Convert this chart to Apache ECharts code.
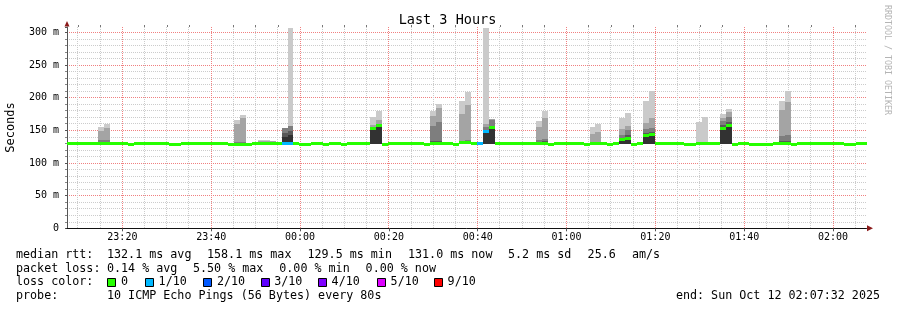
<!DOCTYPE html>
<html><head><meta charset="utf-8">
<script src="https://cdn.jsdelivr.net/npm/echarts@6/dist/echarts.min.js"></script>
<style>html,body{margin:0;padding:0;background:#fff}#c{width:897px;height:310px}</style>
</head><body><div id="c"></div>
<script>
// ---------------- DATA ----------------
const titleText = 'Last 3 Hours';
const yAxisName = 'Seconds';
const watermark = 'RRDTOOL / TOBI OETIKER';
const rangeStart = new Date(2025, 9, 11, 23, 7, 32).getTime();   // graph start
const rangeEnd = new Date(2025, 9, 12, 2, 7, 32).getTime();      // graph end
const firstSampleStart = new Date(2025, 9, 11, 23, 6, 31, 200).getTime();
const stepSeconds = 80;
const yMaxMs = 308;
const yStepMs = 50;
const xTickLabels = ['23:20', '23:40', '00:00', '00:20', '00:40', '01:00', '01:20', '01:40', '02:00'];
const xMinorMinutes = 5;

// median rtt per 80 s sample (ms)
const medianMs = [
  131.2,131.2,131.2,131.2,131.2,131.2,131.2,131.2,131.2,131.2,
  131.2,129.7,131.2,131.2,131.2,131.2,131.2,131.2,129.7,129.7,
  131.2,131.2,131.2,131.2,131.2,131.2,131.2,131.2,129.7,129.7,
  129.7,129.7,131.2,131.2,131.2,131.2,131.2,131.2,131.2,131.2,
  129.7,129.7,131.2,131.2,129.7,131.2,131.2,129.7,131.2,131.2,
  131.2,131.2,153.0,157.7,129.7,131.2,131.2,131.2,131.2,131.2,
  131.2,129.7,131.2,131.2,131.2,131.2,129.7,132.5,132.5,131.2,
  131.2,149.0,154.6,131.2,131.2,131.2,131.2,131.2,131.2,131.2,
  131.2,131.2,129.7,131.2,131.2,131.2,131.2,131.2,129.7,131.2,
  131.2,131.2,129.7,131.2,136.0,138.5,129.7,131.2,142.0,145.0,
  131.2,131.2,131.2,131.2,131.2,129.7,129.7,131.2,131.2,131.2,
  131.2,153.5,157.7,129.7,131.2,131.2,129.7,129.7,129.7,129.7,
  131.2,131.2,131.2,129.7,131.2,131.2,131.2,131.2,131.2,131.2,
  131.2,131.2,129.7,129.7,131.2,131.2
];

// samples with lost pings (index into medianMs) and count of lost pings out of 10
const lossSamples = [37, 38, 70, 71];
const lossCounts  = [1, 1, 1, 1];

// samples with visible smoke and their 10 sorted ping times (ms)
const smokeSamples = [6, 7, 29, 30, 33, 34, 35, 37, 38, 52, 53, 62, 63, 67, 68, 71, 72,
                      80, 81, 89, 90, 94, 95, 98, 99, 107, 108, 111, 112, 121, 122];
const smokePings = [
  [129.5,130.0,130.5,130.8,131.0,131.5,132.0,134.7,148.5,154.6],
  [129.5,130.0,130.5,130.8,131.0,131.5,132.0,134.7,153.5,159.2],
  [128.5,129.0,129.3,129.5,129.7,130.0,130.5,131.5,159.2,165.3],
  [128.5,129.0,129.3,129.5,129.7,130.0,130.5,131.5,168.9,173.0],
  [129.8,130.0,130.3,130.6,131.0,131.3,131.6,132.0,133.0,134.5],
  [129.8,130.0,130.3,130.6,131.0,131.3,131.6,132.0,133.5,135.0],
  [129.8,130.0,130.3,130.6,131.0,131.3,131.6,132.0,133.0,134.0],
  [129.5,129.6,129.8,130.0,130.5,139.6,145.7,153.0,153.0,153.5],
  [129.5,129.6,129.8,130.0,130.5,142.0,148.5,156.0,156.0,306.6],
  [128.5,128.6,128.7,128.8,129.0,152.0,153.5,155.0,158.7,171.0],
  [128.5,128.6,128.7,128.8,129.0,157.0,158.5,160.0,166.0,179.6],
  [130.0,130.2,130.5,130.8,131.0,131.5,133.0,156.0,172.5,179.6],
  [130.0,130.2,130.5,130.8,131.0,131.5,133.0,162.0,184.0,189.8],
  [130.5,131.0,131.3,131.6,132.0,132.5,133.0,134.0,175.6,194.4],
  [130.5,131.0,131.3,131.6,132.0,132.5,133.0,135.0,188.3,208.5],
  [129.2,129.3,129.4,129.5,129.6,150.0,151.0,155.0,160.0,306.6],
  [128.8,128.9,129.0,129.2,129.5,154.0,157.0,165.0,167.3,167.5],
  [130.0,130.2,130.5,130.8,131.0,131.5,132.0,135.5,155.6,164.3],
  [130.0,130.2,130.5,130.8,131.0,131.5,133.0,136.0,168.9,179.6],
  [129.5,129.8,130.0,130.5,130.8,131.0,131.2,131.5,144.4,154.6],
  [129.5,129.8,130.0,130.5,130.8,131.0,131.2,131.5,147.0,159.2],
  [128.3,128.4,128.5,128.6,128.8,136.5,138.0,142.5,152.0,169.4],
  [128.3,128.4,128.5,128.6,128.8,139.0,143.0,150.0,157.0,176.0],
  [128.3,128.4,128.5,128.6,128.8,142.0,146.0,152.0,161.0,194.4],
  [128.3,128.4,128.5,128.6,128.8,145.0,148.0,153.0,169.0,210.0],
  [130.0,130.3,130.5,130.8,131.0,131.2,131.5,132.0,132.5,162.7],
  [130.0,130.3,130.5,130.8,131.0,131.2,131.5,132.0,132.5,170.0],
  [128.3,128.4,128.5,128.6,128.8,152.0,158.0,164.0,168.4,175.0],
  [128.3,128.4,128.5,128.6,128.8,157.0,163.0,170.0,177.6,182.2],
  [130.0,130.2,130.5,130.8,131.0,131.5,133.0,141.3,180.6,194.9],
  [130.0,130.2,130.5,130.8,131.0,131.5,133.0,142.8,192.9,210.2]
];

// legend texts
const rowLabels = ['median rtt:', 'packet loss:', 'loss color:', 'probe:'];
const rttStats = ['132.1 ms avg', '158.1 ms max', '129.5 ms min', '131.0 ms now', '5.2 ms sd', '25.6', 'am/s'];
const lossStats = ['0.14 % avg', '5.50 % max', '0.00 % min', '0.00 % now'];
const lossLegendLabels = ['0', '1/10', '2/10', '3/10', '4/10', '5/10', '9/10'];
const lossLegendCounts = [0, 1, 2, 3, 4, 5, 9];
const probeText = '10 ICMP Echo Pings (56 Bytes) every 80s';
const endText = 'end: Sun Oct 12 02:07:32 2025';

// ---------------- STYLE / LAYOUT ----------------
const FONT = "'DejaVu Sans Mono', monospace";
const smokeShades = ['#cacaca', '#a4a4a4', '#7e7e7e', '#585858', '#323232'];
function lossColor(n) {
  if (n <= 0) return '#26ff00';
  if (n === 1) return '#00b8ff';
  if (n === 2) return '#0059ff';
  if (n === 3) return '#5e00ff';
  if (n === 4) return '#7e00ff';
  if (n === 5) return '#dd00ff';
  return '#ff0000';
}
const majorColor = '#f08080';
const minorColor = '#cccccc';
const rowY = [255, 268.5, 282, 296];
const rttX = [107, 207, 307.5, 408, 508, 587.6, 632];
const lossX = [107, 193, 279.3, 365.6];
const boxX = [107.4, 145, 203.4, 260.6, 318, 377, 434];
const stepMs = stepSeconds * 1000;
const pad = n => (n < 10 ? '0' : '') + n;
const fmtTime = v => { const d = new Date(v); return pad(d.getHours()) + ':' + pad(d.getMinutes()); };

// tick positions from the tick labels (evening labels on Oct 11, the rest on Oct 12)
function labelToTime(s) {
  const p = s.split(':').map(Number);
  return p[0] >= 12 ? new Date(2025, 9, 11, p[0], p[1]).getTime() : new Date(2025, 9, 12, p[0], p[1]).getTime();
}
const majorTicks = xTickLabels.map(labelToTime);
const minorTicks = [];
for (let t = majorTicks[0] - 4 * xMinorMinutes * 60000; t < rangeEnd; t += xMinorMinutes * 60000) {
  if (t > rangeStart && majorTicks.indexOf(t) < 0) minorTicks.push(t);
}

// ---------------- SERIES DATA ----------------
const lossOf = medianMs.map(() => 0);
lossSamples.forEach((s, j) => { lossOf[s] = lossCounts[j]; });
const medianData = medianMs.map((m, i) => {
  const t = firstSampleStart + i * stepMs;
  return [t, t + stepMs, m, lossOf[i]];
});
const smokeData = smokeSamples.map((s, j) => {
  const t = firstSampleStart + s * stepMs;
  return [t, t + stepMs].concat(smokePings[j]);
});
const vGridData = minorTicks.map(t => [t, 0]).concat(majorTicks.map(t => [t, 1]));

function renderSmoke(params, api) {
  const t0 = api.value(0), t1 = api.value(1);
  const children = [];
  for (let b = 0; b < 5; b++) {
    const lo = api.value(2 + b), hi = api.value(11 - b);
    const a = api.coord([t0, hi]), c = api.coord([t1, lo]);
    const x0 = Math.round(a[0]), x1 = Math.round(c[0]);
    const y0 = Math.round(a[1]), y1 = Math.round(c[1]);
    children.push({ type: 'rect', shape: { x: x0, y: y0, width: x1 - x0, height: Math.max(y1 - y0, 0) },
      style: { fill: smokeShades[b] } });
  }
  return { type: 'group', children };
}
function renderMedian(params, api) {
  const t0 = api.value(0), t1 = api.value(1);
  const a = api.coord([t0, api.value(2)]), c = api.coord([t1, api.value(2)]);
  const x0 = Math.round(a[0]), x1 = Math.round(c[0]);
  const y = Math.round(a[1] - 1);
  return { type: 'rect', shape: { x: x0, y: y, width: x1 - x0, height: 3 },
    style: { fill: lossColor(api.value(3)) } };
}
function renderVGrid(params, api) {
  const t = api.value(0);
  const top = api.coord([t, yMaxMs]), bottom = api.coord([t, 0]);
  const x = Math.floor(top[0]) + 0.5;
  return { type: 'line', shape: { x1: x, y1: Math.round(top[1]), x2: x, y2: Math.round(bottom[1]) },
    style: { stroke: api.value(1) ? majorColor : minorColor, lineWidth: 1, lineDash: [1, 1] } };
}

// ---------------- GRAPHIC TEXT ----------------
function txt(x, y, text, opt) {
  opt = opt || {};
  return { type: 'text', x: x, y: y, rotation: opt.rot || 0, silent: true,
    style: { text: text, font: (opt.size || 11.7) + 'px ' + FONT, fill: opt.color || '#000',
      align: opt.align || 'left', verticalAlign: 'middle',
      textAlign: opt.align || 'left', textVerticalAlign: 'middle' } };
}
const graphics = [];
graphics.push(txt(447.5, 20, titleText, { size: 13.5, align: 'center' }));
graphics.push(txt(11, 127.5, yAxisName, { size: 12, align: 'center', rot: Math.PI / 2 }));
graphics.push(txt(887.5, 60, watermark, { size: 8.3, align: 'center', rot: -Math.PI / 2, color: '#b4b4b4' }));
rowLabels.forEach((l, i) => graphics.push(txt(16, rowY[i], l)));
rttStats.forEach((s, i) => graphics.push(txt(rttX[i], rowY[0], s)));
lossStats.forEach((s, i) => graphics.push(txt(lossX[i], rowY[1], s)));
lossLegendLabels.forEach((s, i) => {
  graphics.push({ type: 'rect', silent: true, shape: { x: Math.round(boxX[i]) + 0.5, y: 278.5, width: 8, height: 8 },
    style: { fill: lossColor(lossLegendCounts[i]), stroke: '#000', lineWidth: 1 } });
  graphics.push(txt(boxX[i] + 13.6, rowY[2], s));
});
graphics.push(txt(107, rowY[3], probeText));
graphics.push(txt(880, rowY[3], endText, { align: 'right' }));
// axis arrows
graphics.push({ type: 'polygon', silent: true, shape: { points: [[64.5, 26.5], [69.5, 26.5], [67, 21]] }, style: { fill: '#8b1a1a' } });
graphics.push({ type: 'polygon', silent: true, shape: { points: [[867, 225.3], [867, 231.3], [873, 228.3]] }, style: { fill: '#8b1a1a' } });

// ---------------- CHART ----------------
const chart = echarts.init(document.getElementById('c'), null, { renderer: 'canvas' });
chart.setOption({
  animation: false,
  backgroundColor: '#fff',
  grid: { left: 67, right: 30.5, top: 27, bottom: 81.7, containLabel: false },
  xAxis: [
    { type: 'value', min: rangeStart, max: rangeEnd, z: 3,
      axisLine: { show: true, lineStyle: { color: '#111', width: 1 } },
      axisTick: { show: true, length: 3, customValues: majorTicks, lineStyle: { color: '#555' } },
      axisLabel: { show: true, customValues: majorTicks, margin: 4, color: '#000',
        fontFamily: FONT, fontSize: 10, hideOverlap: false, formatter: fmtTime },
      splitLine: { show: false } },
    { type: 'value', min: rangeStart, max: rangeEnd, z: 3,
      axisLine: { show: false }, axisLabel: { show: false, customValues: minorTicks },
      axisTick: { show: true, length: 2, customValues: minorTicks, lineStyle: { color: '#777' } },
      splitLine: { show: false } }
  ],
  yAxis: {
    type: 'value', min: 0, max: yMaxMs, interval: yStepMs,
    axisLine: { show: true, lineStyle: { color: '#555', width: 1 } },
    axisTick: { show: true, length: 2, lineStyle: { color: '#555' } },
    minorTick: { show: true, splitNumber: 5, length: 2, lineStyle: { color: '#888' } },
    axisLabel: { showMaxLabel: false, margin: 8, color: '#000', fontFamily: FONT, fontSize: 10,
      formatter: v => (v === 0 ? '0' : v + ' m') },
    splitLine: { show: true, showMinLine: false, showMaxLine: false, lineStyle: { color: majorColor, width: 1, type: [1, 1] } },
    minorSplitLine: { show: true, lineStyle: { color: minorColor, width: 1, type: [1, 1] } }
  },
  series: [
    { type: 'custom', name: 'vgrid', xAxisIndex: 0, clip: true, silent: true, z: 1,
      renderItem: renderVGrid, encode: { x: 0 }, data: vGridData },
    { type: 'custom', name: 'smoke', xAxisIndex: 0, clip: true, silent: true, z: 2,
      renderItem: renderSmoke, encode: { x: [0, 1], y: [2, 11] }, data: smokeData },
    { type: 'custom', name: 'median', xAxisIndex: 0, clip: true, silent: true, z: 2,
      renderItem: renderMedian, encode: { x: [0, 1], y: 2 }, data: medianData }
  ],
  graphic: graphics
});
</script></body></html>
